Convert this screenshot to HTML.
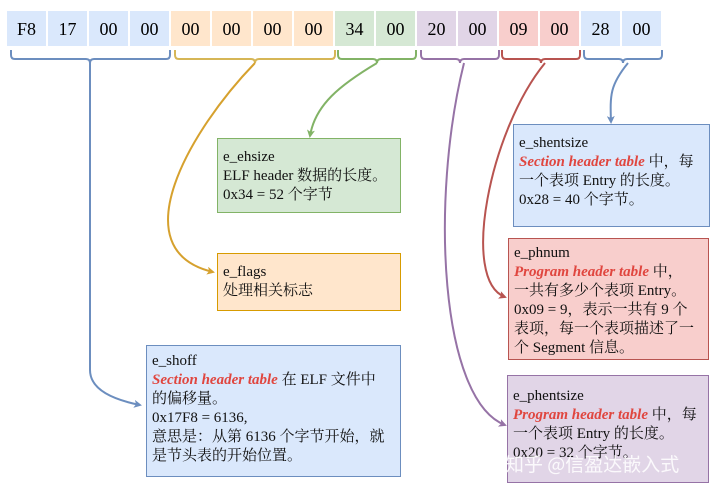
<!DOCTYPE html>
<html><head><meta charset="utf-8"><style>
body{margin:0;width:720px;height:491px;background:#fff;position:relative;overflow:hidden;font-family:"Liberation Serif","Noto Serif CJK SC","Noto Sans CJK SC",serif;font-size:15px;color:#111}
.b{position:absolute;box-sizing:border-box;border:1px solid;padding:9px 3px 0 5px;line-height:19px}
.r{color:#e0463f;font-weight:bold;font-style:italic}
svg{position:absolute;left:0;top:0}
</style></head><body>
<svg width="720" height="491" viewBox="0 0 720 491">
<defs>
<marker id="m1" markerWidth="8" markerHeight="8" refX="6" refY="4" orient="auto" markerUnits="userSpaceOnUse"><path d="M0,0 L8,4 L0,8 L2,4z" fill="#6c8ebf"/></marker>
<marker id="m2" markerWidth="8" markerHeight="8" refX="6" refY="4" orient="auto" markerUnits="userSpaceOnUse"><path d="M0,0 L8,4 L0,8 L2,4z" fill="#d6a12e"/></marker>
<marker id="m3" markerWidth="8" markerHeight="8" refX="6" refY="4" orient="auto" markerUnits="userSpaceOnUse"><path d="M0,0 L8,4 L0,8 L2,4z" fill="#82b366"/></marker>
<marker id="m4" markerWidth="8" markerHeight="8" refX="6" refY="4" orient="auto" markerUnits="userSpaceOnUse"><path d="M0,0 L8,4 L0,8 L2,4z" fill="#9673a6"/></marker>
<marker id="m5" markerWidth="8" markerHeight="8" refX="6" refY="4" orient="auto" markerUnits="userSpaceOnUse"><path d="M0,0 L8,4 L0,8 L2,4z" fill="#b85450"/></marker>
</defs>
<g font-family="Liberation Serif" font-size="18" text-anchor="middle">
<g id="cells"></g>
</g>
<g fill="none" stroke-width="2">
<path d="M11,50 v5 q0,4 4,4 h71 q4,0 4,4 q0,-4 4,-4 h72 q4,0 4,-4 v-5" stroke="#6c8ebf"/>
<path d="M175,50 v5 q0,4 4,4 h72 q4,0 4,4 q0,-4 4,-4 h72 q4,0 4,-4 v-5" stroke="#d6b656"/>
<path d="M338,50 v5 q0,4 4,4 h31 q4,0 4,4 q0,-4 4,-4 h31 q4,0 4,-4 v-5" stroke="#82b366"/>
<path d="M421,50 v5 q0,4 4,4 h31 q4,0 4,4 q0,-4 4,-4 h31 q4,0 4,-4 v-5" stroke="#9673a6"/>
<path d="M502,50 v5 q0,4 4,4 h31 q4,0 4,4 q0,-4 4,-4 h31 q4,0 4,-4 v-5" stroke="#b85450"/>
<path d="M584,50 v5 q0,4 4,4 h31 q4,0 4,4 q0,-4 4,-4 h31 q4,0 4,-4 v-5" stroke="#6c8ebf"/>
</g>
<g fill="none" stroke-width="2">
<path d="M90,63 V370 Q90,395 140,405" stroke="#6c8ebf" marker-end="url(#m1)"/>
<path d="M255,63 C190,130 120,250 213,272" stroke="#d6a12e" marker-end="url(#m2)"/>
<path d="M377,63 C340,85 315,105 310,136" stroke="#82b366" marker-end="url(#m3)"/>
<path d="M464,63 C430,200 440,400 505,425" stroke="#9673a6" marker-end="url(#m4)"/>
<path d="M545,63 C490,130 460,280 505,297" stroke="#b85450" marker-end="url(#m5)"/>
<path d="M628,63 C610,85 610,95 611,122" stroke="#6c8ebf" marker-end="url(#m1)"/>
</g>
</svg>
<div class="b" style="left:217px;top:138px;width:184px;height:75px;background:#d5e8d4;border-color:#82b366">e_ehsize<br>ELF header 数据的长度。<br>0x34 = 52 个字节</div>
<div class="b" style="left:217px;top:253px;width:184px;height:58px;background:#ffe6cc;border-color:#d79b00">e_flags<br>处理相关标志</div>
<div class="b" style="left:146px;top:345px;width:255px;height:132px;background:#dae8fc;border-color:#6c8ebf;padding-top:6px">e_shoff<br><span class="r">Section header table</span> 在 ELF 文件中<br>的偏移量。<br>0x17F8 = 6136,<br>意思是：从第 6136 个字节开始，就是节头表的开始位置。</div>
<div class="b" style="left:513px;top:124px;width:197px;height:103px;background:#dae8fc;border-color:#6c8ebf">e_shentsize<br><span class="r">Section header table</span> 中，每一个表项 Entry 的长度。<br>0x28 = 40 个字节。</div>
<div class="b" style="left:508px;top:238px;width:201px;height:122px;background:#f8cecc;border-color:#b85450;padding-top:5px">e_phnum<br><span class="r">Program header table</span> 中，<br>一共有多少个表项 Entry。<br>0x09 = 9，表示一共有 9 个<br>表项，每一个表项描述了一<br>个 Segment 信息。</div>
<div class="b" style="left:507px;top:375px;width:202px;height:108px;background:#e1d5e7;border-color:#9673a6;padding-top:11px">e_phentsize<br><span class="r">Program header table</span> 中，每一个表项 Entry 的长度。<br>0x20 = 32 个字节。</div>
<div style="position:absolute;left:505px;top:450px;font-family:'Noto Sans CJK SC',sans-serif;font-size:19px;color:rgba(255,255,255,.85)">知乎 @信盈达嵌入式</div>
<script>
var v=["F8","17","00","00","00","00","00","00","34","00","20","00","09","00","28","00"];
var c=["#dae8fc","#dae8fc","#dae8fc","#dae8fc","#ffe6cc","#ffe6cc","#ffe6cc","#ffe6cc","#d5e8d4","#d5e8d4","#e1d5e7","#e1d5e7","#f8cecc","#f8cecc","#dae8fc","#dae8fc"];
var g=document.getElementById("cells"),h="";
for(var i=0;i<16;i++){var x=7+i*41;h+='<rect x="'+x+'" y="11" width="39" height="35" fill="'+c[i]+'"/><text x="'+(x+19.5)+'" y="35">'+v[i]+'</text>';}
g.innerHTML=h;
</script>
</body></html>
